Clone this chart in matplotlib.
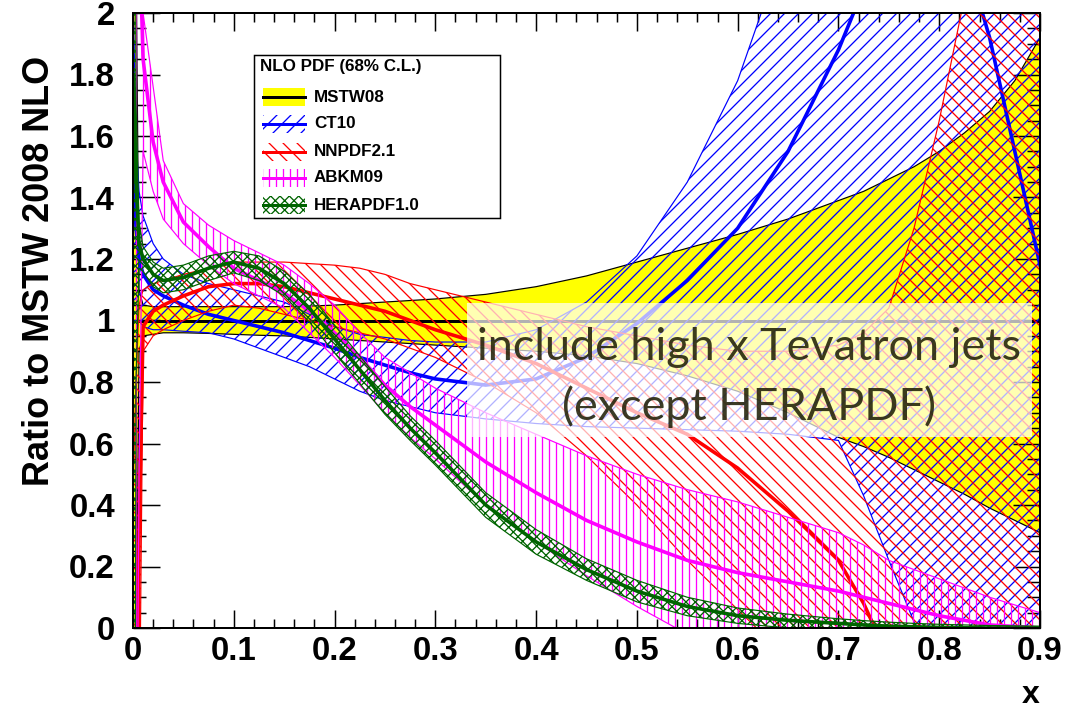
"""
Ratio of NLO PDFs to MSTW 2008 NLO, ROOT-style band plot
"""
import matplotlib
matplotlib.use("Agg")
import matplotlib.pyplot as plt
from matplotlib.patches import Rectangle
from matplotlib.lines import Line2D
from matplotlib.ticker import MultipleLocator, FuncFormatter

# ---- data ----
x = [0.0005, 0.003, 0.006, 0.01, 0.02, 0.03, 0.05, 0.075, 0.1, 0.125, 0.15, 0.175,
     0.2, 0.225, 0.25, 0.275, 0.3, 0.35, 0.4, 0.45, 0.5, 0.55, 0.6, 0.65, 0.7,
     0.725, 0.75, 0.775, 0.8, 0.825, 0.85, 0.875, 0.9]

mstw_cen = [1.0] * len(x)
mstw_up = [3.0, 2.2, 1.1, 1.05, 1.045, 1.045, 1.045, 1.045, 1.045, 1.045, 1.045, 1.047,
           1.05, 1.055, 1.06, 1.065, 1.07, 1.085, 1.11, 1.145, 1.19, 1.235, 1.28, 1.33, 1.39,
           1.42, 1.46, 1.50, 1.55, 1.61, 1.68, 1.78, 1.92]
mstw_lo = [-1.0, -0.2, 0.9, 0.95, 0.955, 0.96, 0.96, 0.958, 0.955, 0.952, 0.95, 0.945,
           0.94, 0.935, 0.93, 0.925, 0.92, 0.91, 0.9, 0.885, 0.86, 0.82, 0.77, 0.70, 0.62,
           0.59, 0.555, 0.515, 0.475, 0.435, 0.39, 0.35, 0.31]

ct10_cen = [1.5, 1.3, 1.2, 1.15, 1.1, 1.08, 1.05, 1.02, 1.0, 0.98, 0.96, 0.935,
            0.91, 0.88, 0.855, 0.83, 0.81, 0.79, 0.81, 0.88, 0.99, 1.13, 1.30, 1.55, 1.88,
            2.08, 2.25, 2.35, 2.35, 2.2, 1.92, 1.55, 1.18]
ct10_up = [2.0, 1.6, 1.42, 1.34, 1.25, 1.2, 1.15, 1.12, 1.1, 1.08, 1.06, 1.02,
           0.98, 0.955, 0.945, 0.935, 0.93, 0.93, 0.97, 1.06, 1.21, 1.45, 1.78, 2.25, 2.8,
           3.1, 3.4, 3.7, 4.0, 4.2, 4.4, 4.6, 4.8]
ct10_lo = [1.0, 1.0, 1.0, 0.98, 0.97, 0.97, 0.965, 0.96, 0.94, 0.91, 0.88, 0.85,
           0.81, 0.77, 0.74, 0.72, 0.70, 0.68, 0.665, 0.655, 0.65, 0.645, 0.64, 0.63, 0.61,
           0.43, 0.22, 0.02, -0.2, -0.4, -0.6, -0.8, -1.0]

nnpdf_cen = [-3.0, -1.0, 0.3, 0.98, 1.03, 1.05, 1.08, 1.11, 1.12, 1.12, 1.11, 1.09,
             1.07, 1.05, 1.03, 1.0, 0.97, 0.92, 0.86, 0.78, 0.7, 0.63, 0.52, 0.38, 0.22,
             0.08, -0.1, -0.3, -0.5, -0.7, -0.9, -1.1, -1.3]
nnpdf_up = [0.5, 0.8, 1.05, 1.1, 1.12, 1.13, 1.15, 1.17, 1.19, 1.19, 1.19, 1.185,
            1.18, 1.17, 1.15, 1.12, 1.10, 1.06, 1.02, 0.98, 0.95, 0.92, 0.9, 0.9, 0.92,
            0.96, 1.04, 1.3, 1.65, 2.05, 2.5, 3.0, 3.5]
nnpdf_lo = [-5.0, -3.0, -0.5, 0.9, 0.95, 0.97, 1.0, 1.03, 1.05, 1.04, 1.02, 1.0,
            0.98, 0.96, 0.94, 0.91, 0.88, 0.8, 0.7, 0.56, 0.4, 0.22, 0.06, -0.1, -0.3,
            -0.4, -0.5, -0.6, -0.7, -0.8, -0.9, -1.0, -1.1]

abkm_cen = [3.5, 3.0, 2.3, 1.85, 1.58, 1.45, 1.32, 1.24, 1.17, 1.13, 1.09, 1.03,
            0.96, 0.88, 0.79, 0.72, 0.66, 0.54, 0.44, 0.35, 0.28, 0.22, 0.18, 0.15, 0.12,
            0.1, 0.08, 0.06, 0.04, 0.025, 0.01, 0.005, 0.0]
abkm_up = [4.5, 4.0, 3.0, 2.0, 1.76, 1.52, 1.38, 1.31, 1.26, 1.22, 1.18, 1.12,
           1.05, 0.96, 0.88, 0.83, 0.78, 0.70, 0.63, 0.56, 0.5, 0.45, 0.41, 0.36, 0.31,
           0.27, 0.22, 0.19, 0.16, 0.13, 0.1, 0.075, 0.05]
abkm_lo = [-1.0, -1.0, 0.5, 1.55, 1.42, 1.33, 1.25, 1.18, 1.12, 1.08, 1.04, 0.96,
           0.88, 0.79, 0.7, 0.62, 0.55, 0.4, 0.28, 0.17, 0.07, -0.02, -0.1, -0.15, -0.2,
           -0.22, -0.25, -0.27, -0.3, -0.32, -0.35, -0.37, -0.4]

hera_cen = [1.8, 1.45, 1.25, 1.2, 1.15, 1.13, 1.14, 1.17, 1.19, 1.17, 1.12, 1.04,
            0.94, 0.84, 0.74, 0.65, 0.57, 0.40, 0.28, 0.19, 0.12, 0.07, 0.04, 0.025, 0.015,
            0.01, 0.006, 0.004, 0.002, 0.001, 0.0, 0.0, 0.0]
hera_up = [5.0, 1.7, 1.32, 1.24, 1.19, 1.17, 1.18, 1.21, 1.225, 1.21, 1.16, 1.085,
           0.985, 0.885, 0.785, 0.69, 0.61, 0.44, 0.32, 0.225, 0.155, 0.1, 0.065, 0.045, 0.03,
           0.024, 0.019, 0.015, 0.012, 0.01, 0.008, 0.007, 0.006]
hera_lo = [-3.0, 0.8, 1.17, 1.16, 1.11, 1.09, 1.1, 1.13, 1.155, 1.13, 1.08, 0.995,
           0.895, 0.795, 0.695, 0.61, 0.53, 0.36, 0.24, 0.155, 0.085, 0.04, 0.015, 0.0, -0.01,
           -0.01, -0.01, -0.01, -0.01, -0.01, -0.01, -0.01, -0.01]

labels = ['MSTW08', 'CT10', 'NNPDF2.1', 'ABKM09', 'HERAPDF1.0']
colors = ['black', '#0000ff', '#ff0000', '#ff00ff', '#006400']
hatches = [None, '//', '\\\\', '||', 'xxx']

# ---- figure ----
# dpi 84 so that the hatch spacing comes out close to the ROOT one
W, H, DPI = 1065, 708, 84
P = 72.0 / DPI  # pixels -> points

plt.rcParams['font.family'] = ['Liberation Sans', 'DejaVu Sans']
plt.rcParams['font.weight'] = 'bold'
plt.rcParams['hatch.linewidth'] = 1.3 * P

fig = plt.figure(figsize=(W / DPI, H / DPI), dpi=DPI)
fig.patch.set_facecolor('white')
ax = fig.add_axes([133 / W, 1 - 628 / H, (1040 - 133) / W, (628 - 13) / H])

# MSTW: yellow band
ax.fill_between(x, mstw_lo, mstw_up, facecolor='#ffff00', edgecolor='none', zorder=1)
ax.plot(x, mstw_up, color='black', lw=1.2 * P, zorder=1.1)
ax.plot(x, mstw_lo, color='black', lw=1.2 * P, zorder=1.1)
ax.plot(x, mstw_cen, color='black', lw=3 * P, zorder=1.2)

bands = [(ct10_lo, ct10_up, ct10_cen), (nnpdf_lo, nnpdf_up, nnpdf_cen),
         (abkm_lo, abkm_up, abkm_cen), (hera_lo, hera_up, hera_cen)]
for i, (lo, up, cen) in enumerate(bands):
    c = colors[i + 1]
    z = 2 + i
    ax.fill_between(x, lo, up, facecolor='none', edgecolor=c, hatch=hatches[i + 1],
                    linewidth=0, zorder=z)
    ax.plot(x, up, color=c, lw=1.2 * P, zorder=z + 0.1)
    ax.plot(x, lo, color=c, lw=1.2 * P, zorder=z + 0.1)
    ax.plot(x, cen, color=c, lw=3.6 * P, zorder=z + 0.2)

ax.set_xlim(0, 0.9)
ax.set_ylim(0, 2)
ax.xaxis.set_major_locator(MultipleLocator(0.1))
ax.xaxis.set_minor_locator(MultipleLocator(0.02))
ax.yaxis.set_major_locator(MultipleLocator(0.2))
ax.yaxis.set_minor_locator(MultipleLocator(0.05))
fmt = FuncFormatter(lambda v, p: f'{round(v, 2):g}')
ax.xaxis.set_major_formatter(fmt)
ax.yaxis.set_major_formatter(fmt)
ax.tick_params(axis='x', which='major', direction='in', length=18 * P, width=1.5 * P,
               top=True, labelsize=33 * P, pad=8 * P)
ax.tick_params(axis='x', which='minor', direction='in', length=9 * P, width=1.5 * P, top=True)
ax.tick_params(axis='y', which='major', direction='in', length=27 * P, width=1.5 * P,
               right=True, labelsize=33 * P, pad=18 * P)
ax.tick_params(axis='y', which='minor', direction='in', length=13 * P, width=1.5 * P,
               right=True)
for s in ax.spines.values():
    s.set_linewidth(2 * P)
    s.set_zorder(30)

# overlay note
ax.add_patch(Rectangle((0.368, 0.3106), 0.623, 0.2174, transform=ax.transAxes,
                       facecolor='white', alpha=0.7, edgecolor='none', zorder=20))
ax.text(0.6797, 0.4553, 'include high x Tevatron jets', transform=ax.transAxes,
        ha='center', va='center', fontsize=45 * P, family='Lato', weight='normal',
        color='#1a1a00', alpha=0.85, zorder=21)
ax.text(0.6797, 0.3593, '(except HERAPDF)', transform=ax.transAxes,
        ha='center', va='center', fontsize=45 * P, family='Lato', weight='normal',
        color='#1a1a00', alpha=0.85, zorder=21)

# axis titles
fig.text(40 / W, 1 - 271 / H, 'Ratio to MSTW 2008 NLO', rotation=90,
         ha='center', va='center', fontsize=36 * P, weight='bold')
fig.text(1040 / W, 1 - 695 / H, 'x', ha='right', va='center', fontsize=32 * P,
         weight='bold')


# legend, drawn by hand in pixel positions
def fx(px):
    return px / W


def fy(py):
    return 1 - py / H


fig.add_artist(Rectangle((fx(254), fy(218)), fx(500) - fx(254), fy(55) - fy(218),
                         transform=fig.transFigure, facecolor='white',
                         edgecolor='black', lw=1.5 * P, zorder=40))
fig.text(fx(260), fy(67), 'NLO PDF (68% C.L.)', ha='left', va='center',
         fontsize=17 * P, weight='bold', zorder=41)
rows = [97, 124, 152, 178, 205]
for i, lab in enumerate(labels):
    yc = rows[i]
    box = (fx(263), fy(yc + 9))
    bw, bh = fx(305) - fx(263), fy(yc - 9) - fy(yc + 9)
    if i == 0:
        fig.add_artist(Rectangle(box, bw, bh, transform=fig.transFigure,
                                 facecolor='#ffff00', edgecolor='none', zorder=41))
    else:
        fig.add_artist(Rectangle(box, bw, bh, transform=fig.transFigure,
                                 facecolor='none', edgecolor=colors[i],
                                 hatch=hatches[i], lw=0, zorder=41))
    fig.add_artist(Line2D([fx(263), fx(305)], [fy(yc), fy(yc)], transform=fig.transFigure,
                          color=colors[i], lw=3 * P, zorder=42))
    fig.text(fx(314), fy(yc), lab, ha='left', va='center', fontsize=17 * P,
             weight='bold', zorder=42)

fig.savefig('out.png', dpi=DPI, facecolor='white')
